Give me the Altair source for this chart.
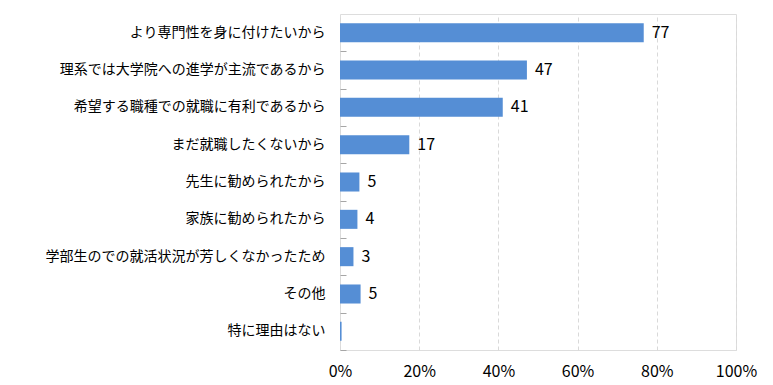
import altair as alt
import pandas as pd

categories = [
    "より専門性を身に付けたいから",
    "理系では大学院への進学が主流であるから",
    "希望する職種での就職に有利であるから",
    "まだ就職したくないから",
    "先生に勧められたから",
    "家族に勧められたから",
    "学部生のでの就活状況が芳しくなかったため",
    "その他",
    "特に理由はない",
]
counts = [77, 47, 41, 17, 5, 4, 3, 5, 0]
percents = [76.7, 47.2, 41.1, 17.5, 4.9, 4.4, 3.4, 5.2, 0.4]
count_labels = ["77", "47", "41", "17", "5", "4", "3", "5", ""]

df = pd.DataFrame({
    "cat": categories,
    "count": counts,
    "pct": [p / 100 for p in percents],
    "label": count_labels,
})

FONT = "Noto Sans CJK JP"
H = 336
STEP = H / len(categories)

y_scale = alt.Scale(paddingInner=0.49, paddingOuter=0.245)
x_scale = alt.Scale(domain=[0, 1], nice=False)

y_enc = alt.Y(
    "cat:N",
    sort=categories,
    title=None,
    scale=y_scale,
    axis=alt.Axis(
        orient="left",
        labelFont=FONT, labelFontSize=14, labelColor="#000000",
        labelFontWeight="normal", labelLimit=0,
        labelPadding=15, ticks=False, domain=False, grid=False,
    ),
)

x_axis = alt.Axis(
    format="%", values=[0, 0.2, 0.4, 0.6, 0.8, 1.0],
    labelFont=FONT, labelFontSize=16, labelColor="#000000",
    labelPadding=13, ticks=False, domain=False,
    grid=True, gridColor="#d9d9d9", gridDash=[4, 3], gridWidth=1,
    labelFlush=False,
)

bars = alt.Chart(df).mark_bar(color="#558ed5").encode(
    x=alt.X("pct:Q", title=None, scale=x_scale, axis=x_axis),
    y=y_enc,
)

text = alt.Chart(df).mark_text(
    align="left", baseline="middle", dx=8, font=FONT, fontSize=16, color="#000000"
).encode(
    x=alt.X("pct:Q", title=None, scale=x_scale, axis=x_axis),
    y=alt.Y(
        "cat:N", sort=categories, title=None, scale=y_scale,
        axis=alt.Axis(
            orient="left",
            labels=False, domain=False, grid=False, ticks=True,
            tickSize=6, offset=-6, tickOffset=STEP / 2,
            tickColor="#a6a6a6", tickWidth=1,
        ),
    ),
    text="label:N",
)

chart = alt.layer(bars, text).resolve_axis(y="independent").properties(
    width=396, height=H,
    autosize=alt.AutoSizeParams(type="none"),
    padding={"left": 332, "top": 6, "right": 29, "bottom": 33},
).configure_view(
    stroke="#a6a6a6", strokeWidth=1
).configure(background="#ffffff")

chart.save("out.html", embed_options={"renderer": "svg", "actions": False})
